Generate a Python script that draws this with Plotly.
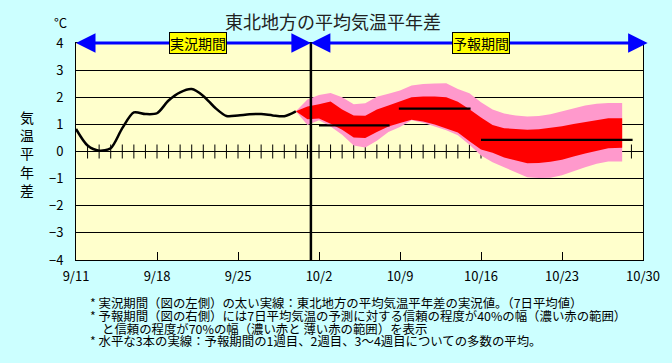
import plotly.graph_objects as go

# ---------------- data ----------------
x_tick_days = [0, 7, 14, 21, 28, 35, 42, 49]
x_tick_labels = ["9/11", "9/18", "9/25", "10/2", "10/9", "10/16", "10/23", "10/30"]
y_ticks = [-4, -3, -2, -1, 0, 1, 2, 3, 4]

# observed 7-day mean anomaly (days after 9/11)
obs_days = list(range(20))
obs_vals = [0.83, 0.22, 0.03, 0.12, 0.86, 1.44, 1.38, 1.41, 1.88, 2.18,
            2.30, 2.05, 1.62, 1.31, 1.33, 1.37, 1.38, 1.33, 1.30, 1.48]

# forecast band (70% = pink, 40% = red)
fc_days = [19, 20, 21, 22, 23, 24, 25, 26, 27, 28, 29, 30, 31, 32, 33,
           34, 35, 36, 37, 38, 39, 40, 41, 42, 43, 44, 45, 46, 47.2]
p70_hi = [1.48, 1.92, 2.08, 2.16, 2.00, 1.74, 1.78, 2.02, 2.13, 2.25, 2.43, 2.49, 2.51, 2.52, 2.30,
          2.15, 1.82, 1.55, 1.40, 1.33, 1.29, 1.31, 1.37, 1.48, 1.58, 1.70, 1.76, 1.79, 1.79]
p70_lo = [1.48, 0.98, 1.15, 0.92, 0.62, 0.22, 0.15, 0.40, 0.72, 0.90, 1.15, 1.06, 0.93, 0.78, 0.60,
          0.25, -0.15, -0.40, -0.58, -0.75, -0.95, -0.98, -0.97, -0.88, -0.72, -0.58, -0.45, -0.37, -0.37]
p40_hi = [1.48, 1.66, 1.74, 1.84, 1.55, 1.33, 1.32, 1.55, 1.70, 1.86, 2.00, 2.03, 2.03, 2.00, 1.83,
          1.56, 1.25, 0.98, 0.86, 0.83, 0.80, 0.82, 0.87, 0.93, 1.01, 1.09, 1.17, 1.23, 1.23]
p40_lo = [1.48, 1.19, 1.22, 1.02, 0.80, 0.52, 0.50, 0.72, 0.92, 1.05, 1.17, 1.11, 1.00, 0.85, 0.70,
          0.38, 0.07, -0.05, -0.22, -0.33, -0.43, -0.42, -0.38, -0.30, -0.18, -0.07, 0.03, 0.12, 0.14]

# ensemble means: week1, week2, weeks 3-4
week_start = [21, 27.9, 35]
week_end = [27.1, 34.1, 48.1]
week_mean = [0.96, 1.58, 0.43]

tick_days = list(range(1, 49))
divider_day = 20.3
arrow_end_day = 49.4

notes = [
    "* 実況期間（図の左側）の太い実線：東北地方の平均気温平年差の実況値。（7日平均値）",
    "* 予報期間（図の右側）には7日平均気温の予測に対する信頼の程度が40%の幅（濃い赤の範囲）",
    "と信頼の程度が70%の幅（濃い赤と 薄い赤の範囲）を表示",
    "* 水平な3本の実線：予報期間の1週目、2週目、3～4週目についての多数の平均。",
]

# ---------------- figure ----------------
W, H = 672, 363
L, R, T, B = 76, 24, 43, 103
FONT = "Noto Sans CJK JP, Noto Sans, sans-serif"

def px_x(p):
    return (p - L) / (W - L - R)

def px_y(p):
    return 1 - (p - T) / (H - T - B)

fig = go.Figure()

# daily ticks on zero line
fig.add_trace(go.Scatter(x=tick_days, y=[0] * len(tick_days), mode="markers",
                         marker=dict(symbol="line-ns", size=10, line=dict(width=1, color="black")),
                         hoverinfo="skip", showlegend=False))

# 70% band
fig.add_trace(go.Scatter(x=fc_days + fc_days[::-1], y=p70_hi + p70_lo[::-1],
                         fill="toself", fillcolor="#FF99CC", line=dict(width=0),
                         mode="lines", hoverinfo="skip", showlegend=False))
# 40% band
fig.add_trace(go.Scatter(x=fc_days + fc_days[::-1], y=p40_hi + p40_lo[::-1],
                         fill="toself", fillcolor="#FF0000", line=dict(width=0),
                         mode="lines", hoverinfo="skip", showlegend=False))

# observed
fig.add_trace(go.Scatter(x=obs_days, y=obs_vals, mode="lines",
                         line=dict(color="black", width=2.5, shape="spline", smoothing=0.8),
                         showlegend=False))

# weekly means
mx, my = [], []
for s, e, v in zip(week_start, week_end, week_mean):
    mx += [s, e, None]
    my += [v, v, None]
fig.add_trace(go.Scatter(x=mx, y=my, mode="lines", line=dict(color="black", width=2.2),
                         showlegend=False))

# divider
fig.add_shape(type="line", x0=divider_day, x1=divider_day, y0=-4, y1=4,
              xref="x", yref="y", line=dict(color="black", width=2.5))

# period arrows
mid_left = divider_day / 2
mid_right = (divider_day + arrow_end_day) / 2
for tip, tail in [(0, mid_left), (divider_day, mid_left), (divider_day, mid_right), (arrow_end_day, mid_right)]:
    fig.add_annotation(x=tip, y=4, ax=tail, ay=4, xref="x", yref="y", axref="x", ayref="y",
                       text="", showarrow=True, arrowhead=2, arrowsize=1.3, arrowwidth=3,
                       arrowcolor="#0000FF", standoff=0)

for xc, label in [(10.5, "実況期間"), (35.0, "予報期間")]:
    fig.add_annotation(x=xc, y=4, xref="x", yref="y", text=label, showarrow=False,
                       bgcolor="#FFFF00", bordercolor="black", borderwidth=1, borderpad=0,
                       font=dict(family=FONT, size=14, color="black"))

# title
fig.add_annotation(x=px_x(335), y=px_y(21), xref="paper", yref="paper", text="東北地方の平均気温平年差",
                   showarrow=False, font=dict(family=FONT, size=18, color="#222222"),
                   xanchor="center", yanchor="middle")
fig.add_annotation(x=px_x(60), y=px_y(22), xref="paper", yref="paper", text="°C",
                   showarrow=False, font=dict(family=FONT, size=13, color="black"),
                   xanchor="center", yanchor="middle")
fig.add_annotation(x=px_x(27), y=px_y(153), xref="paper", yref="paper",
                   text="気<br>温<br>平<br>年<br>差", showarrow=False,
                   font=dict(family=FONT, size=14, color="black"),
                   xanchor="center", yanchor="middle")

note_x = [89, 89, 101, 89]
note_y = [303, 316, 329, 341]
for t, nx, ny in zip(notes, note_x, note_y):
    fig.add_annotation(x=px_x(nx), y=px_y(ny), xref="paper", yref="paper", text=t,
                       showarrow=False, font=dict(family=FONT, size=12.4, color="black"),
                       xanchor="left", yanchor="middle", borderpad=0)

fig.update_layout(
    width=W, height=H,
    margin=dict(l=L, r=R, t=T, b=B),
    paper_bgcolor="#CCFFFF", plot_bgcolor="#FFFFCC",
    font=dict(family=FONT, size=13, color="black"),
    showlegend=False,
)
fig.update_xaxes(range=[0, 49], tickvals=x_tick_days, ticktext=x_tick_labels,
                 ticks="inside", ticklen=8, tickcolor="black", showgrid=False,
                 showline=True, linecolor="black", linewidth=1, mirror=True,
                 zeroline=False, tickfont=dict(size=13), ticklabelstandoff=4)
fig.update_yaxes(range=[-4, 4], tickvals=y_ticks, ticks="", showgrid=True,
                 gridcolor="black", gridwidth=1, zeroline=True, zerolinecolor="black",
                 zerolinewidth=1, showline=True, linecolor="black", linewidth=1, mirror=True,
                 tickfont=dict(size=13), ticklabelstandoff=9)

fig.write_html("out.html", config={"displayModeBar": False},
               post_script="document.body.style.margin='0';")
